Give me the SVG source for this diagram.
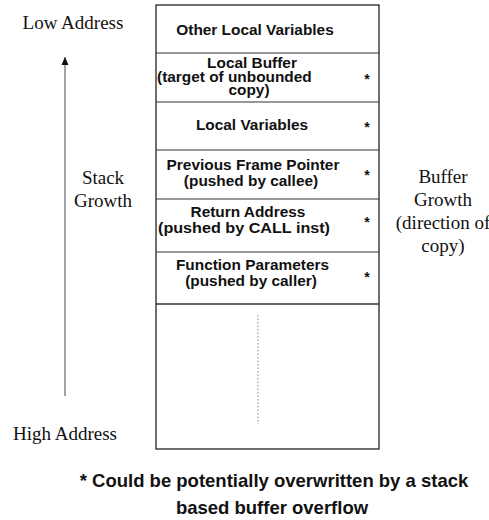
<svg xmlns="http://www.w3.org/2000/svg" width="489" height="520" viewBox="0 0 489 520">
<defs>
<style>
.serif{font-family:"Liberation Serif","Times New Roman",serif;font-size:19px;fill:#111;text-anchor:middle}
.box{font-family:"Liberation Sans",Arial,sans-serif;font-size:15.4px;font-weight:bold;fill:#111;text-anchor:middle}
.star{font-family:"Liberation Sans",Arial,sans-serif;font-size:14px;font-weight:bold;fill:#111;text-anchor:middle}
.foot{font-family:"Liberation Sans",Arial,sans-serif;font-size:18.5px;font-weight:bold;fill:#111;text-anchor:middle}
.frame{fill:#fff;stroke:#111;stroke-width:1.2}
.div{stroke:#333;stroke-width:1.2}
</style>
<marker id="ah" markerWidth="8" markerHeight="10" refX="8" refY="5" orient="auto" markerUnits="userSpaceOnUse">
<path d="M0,1.5 L8,5 L0,8.5 Z" fill="#111"/>
</marker>
</defs>
<rect width="489" height="520" fill="#fff"/>
<g id="labels">
<text class="serif" x="73" y="29">Low Address</text>
<text class="serif" x="103" y="184">Stack</text>
<text class="serif" x="103" y="207">Growth</text>
<text class="serif" x="65" y="440">High Address</text>
<text class="serif" x="443" y="183">Buffer</text>
<text class="serif" x="443" y="206">Growth</text>
<text class="serif" x="443" y="229">(direction of</text>
<text class="serif" x="443" y="252">copy)</text>
</g>
<g id="connectors">
<line x1="65" y1="396" x2="65" y2="57" stroke="#666" stroke-width="1.2" marker-end="url(#ah)"/>
</g>
<g id="stack-frame">
<rect class="frame" x="156" y="5" width="223" height="444"/>
</g>
<g id="other-local-variables">
<text class="box" x="255" y="35">Other Local Variables</text>
</g>
<g id="local-buffer">
<line class="div" x1="156" y1="53" x2="379" y2="53"/>
<text class="box" x="252" y="68">Local Buffer</text>
<text class="box" x="157" y="81.5" style="text-anchor:start">(target of unbounded</text>
<text class="box" x="249" y="95">copy)</text>
<text class="star" x="367" y="84">*</text>
</g>
<g id="local-variables">
<line class="div" x1="156" y1="102" x2="379" y2="102"/>
<text class="box" x="252" y="130">Local Variables</text>
<text class="star" x="367" y="132">*</text>
</g>
<g id="previous-frame-pointer">
<line class="div" x1="156" y1="150" x2="379" y2="150"/>
<text class="box" x="253" y="170">Previous Frame Pointer</text>
<text class="box" x="251" y="186">(pushed by callee)</text>
<text class="star" x="367" y="180">*</text>
</g>
<g id="return-address">
<line class="div" x1="156" y1="199" x2="379" y2="199"/>
<text class="box" x="248" y="217">Return Address</text>
<text class="box" x="244" y="233" textLength="172" lengthAdjust="spacingAndGlyphs">(pushed by CALL inst)</text>
<text class="star" x="367" y="227">*</text>
</g>
<g id="function-parameters">
<line class="div" x1="156" y1="252" x2="379" y2="252"/>
<text class="box" x="252.5" y="270">Function Parameters</text>
<text class="box" x="251" y="286">(pushed by caller)</text>
<text class="star" x="367" y="282">*</text>
</g>
<g id="remaining-stack">
<line x1="156" y1="304" x2="379" y2="304" stroke="#333" stroke-width="1.6"/>
<line x1="258" y1="315" x2="258" y2="424" stroke="#888" stroke-width="1" stroke-dasharray="1.5,2"/>
</g>
<g id="footnote">
<text class="foot" x="274" y="487">* Could be potentially overwritten by a stack</text>
<text class="foot" x="272" y="514">based buffer overflow</text>
</g>
</svg>
